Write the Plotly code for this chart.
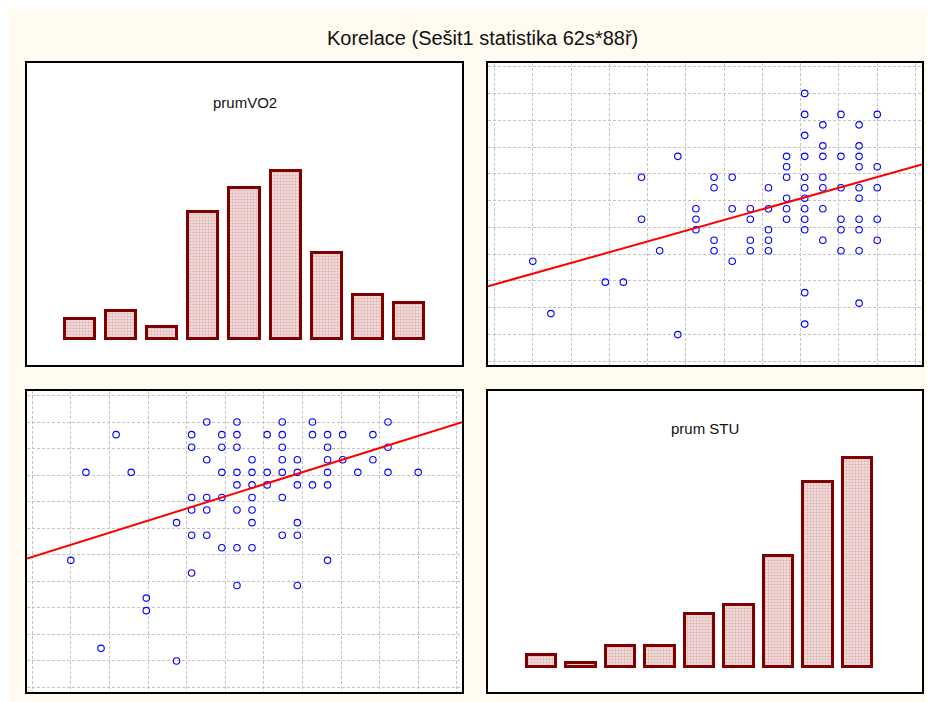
import numpy as np
import plotly.graph_objects as go

# ---------------- data ----------------
TITLE = "Korelace (Sešit1 statistika 62s*88ř)"
VAR_VO2 = "prumVO2"
VAR_STU = "prum STU"

stu = [0, 1, 4, 5, 6, 6, 7, 8, 8, 9, 9, 9, 10, 10, 10, 10, 11, 11, 11,
       12, 12, 12, 12, 12, 13, 13, 13, 13, 13, 13,
       14, 14, 14, 14, 14, 14, 14, 14,
       15, 15, 15, 15, 15, 15, 15, 15, 15, 15, 15, 15, 15, 15,
       16, 16, 16, 16, 16, 16, 16, 16, 16,
       17, 17, 17, 17, 17, 17, 17,
       18, 18, 18, 18, 18, 18, 18, 18, 18, 18, 18, 18, 18,
       19, 19, 19, 19, 19, 19]
vo2 = [7, 2, 5, 5, 11, 15, 8, 0, 17, 10, 11, 12, 8, 9, 14, 15, 7, 12, 15,
       8, 9, 11, 11, 12, 8, 9, 10, 12, 12, 14,
       11, 11, 12, 12, 13, 15, 16, 17,
       1, 4, 10, 11, 12, 13, 13, 14, 15, 17, 19, 21, 21, 23,
       9, 12, 14, 15, 15, 17, 18, 18, 20,
       8, 10, 11, 14, 17, 17, 21,
       3, 8, 10, 11, 13, 14, 14, 14, 16, 16, 17, 18, 20,
       9, 11, 14, 14, 16, 21]
N_BINS = 9

# ---------------- style / layout (figure pixel coordinates) ----------------
W, H = 935, 702
COL_L = (19, 454)
COL_R = (480, 914)
ROW_T = (55, 357)
ROW_B = (383, 684)
CREAM = "#FFFBF0"
GRID = "#c4c4c4"
BAR_LINE = "#800000"
BAR_BASE = 0.54
BAR_W = 0.735
HIST_YR = [-2.57, 34.15]
FONT = "Liberation Sans, Arial, sans-serif"

stu_a = np.array(stu, dtype=float)
vo2_a = np.array(vo2, dtype=float)

# coincident cases are drawn once (as in the original raster plot)
pairs = np.unique(np.column_stack([stu_a, vo2_a]), axis=0)
stu_u, vo2_u = pairs[:, 0], pairs[:, 1]


def dom_x(c):
    return [c[0] / W, c[1] / W]


def dom_y(r):
    return [1 - r[1] / H, 1 - r[0] / H]


def scat_axis_params(arr, pad):
    lo, hi = arr.min(), arr.max()
    step = (hi - lo) / N_BINS
    return [lo - pad * step, hi + pad * step], lo, step


stu_range, stu_t0, stu_dt = scat_axis_params(stu_a, 1.17)
vo2_range, vo2_t0, vo2_dt = scat_axis_params(vo2_a, 1.135)

vo2_counts, _ = np.histogram(vo2_a, bins=N_BINS, range=(vo2_a.min(), vo2_a.max()))
stu_counts, _ = np.histogram(stu_a, bins=N_BINS, range=(stu_a.min(), stu_a.max()))

fig = go.Figure()

bar_marker = dict(
    color="#f0d8d8",
    line=dict(color=BAR_LINE, width=3),
    pattern=dict(shape=".", size=3, solidity=0.5, fgcolor="#c98888", bgcolor="#f6e6e6"),
)

# top-left: histogram of prumVO2
fig.add_trace(go.Bar(x=np.arange(N_BINS), y=vo2_counts - BAR_BASE, base=BAR_BASE,
                     width=BAR_W, marker=bar_marker, xaxis="x", yaxis="y", showlegend=False))

marker_style = dict(symbol="circle-open", size=6.5, color="#0000ff",
                    line=dict(width=1.1, color="#0000ff"))

# top-right: prumVO2 vs prum STU
fig.add_trace(go.Scatter(x=stu_u, y=vo2_u, mode="markers", xaxis="x2", yaxis="y2",
                         marker=marker_style, showlegend=False))
b1, a1 = np.polyfit(stu_a, vo2_a, 1)
xr = np.array(stu_range)
fig.add_trace(go.Scatter(x=xr, y=a1 + b1 * xr, mode="lines", xaxis="x2", yaxis="y2",
                         line=dict(color="#ff0000", width=2), showlegend=False))

# bottom-left: prum STU vs prumVO2
fig.add_trace(go.Scatter(x=vo2_u, y=stu_u, mode="markers", xaxis="x3", yaxis="y3",
                         marker=marker_style, showlegend=False))
b2, a2 = np.polyfit(vo2_a, stu_a, 1)
xr2 = np.array(vo2_range)
fig.add_trace(go.Scatter(x=xr2, y=a2 + b2 * xr2, mode="lines", xaxis="x3", yaxis="y3",
                         line=dict(color="#ff0000", width=2), showlegend=False))

# bottom-right: histogram of prum STU
fig.add_trace(go.Bar(x=np.arange(N_BINS), y=stu_counts - BAR_BASE, base=BAR_BASE,
                     width=BAR_W, marker=bar_marker, xaxis="x4", yaxis="y4", showlegend=False))

frame = dict(showline=True, mirror=True, linecolor="black", linewidth=2,
             showticklabels=False, ticks="", zeroline=False, fixedrange=True)
hist_ax = dict(frame, showgrid=False)


def grid_ax(rng, t0, dt):
    return dict(frame, showgrid=True, gridcolor=GRID, gridwidth=1, griddash="3px,2px",
                range=rng, tick0=t0, dtick=dt)


fig.update_layout(
    width=W, height=H, autosize=False,
    margin=dict(l=0, r=0, t=0, b=0),
    paper_bgcolor=CREAM, plot_bgcolor="white",
    font=dict(family=FONT, color="black"),
    bargap=0,
    xaxis=dict(hist_ax, domain=dom_x(COL_L), range=[-1.29, 9.29], anchor="y"),
    yaxis=dict(hist_ax, domain=dom_y(ROW_T), range=HIST_YR, anchor="x"),
    xaxis2=dict(grid_ax(stu_range, stu_t0, stu_dt), domain=dom_x(COL_R), anchor="y2"),
    yaxis2=dict(grid_ax(vo2_range, vo2_t0, vo2_dt), domain=dom_y(ROW_T), anchor="x2"),
    xaxis3=dict(grid_ax(vo2_range, vo2_t0, vo2_dt), domain=dom_x(COL_L), anchor="y3"),
    yaxis3=dict(grid_ax(stu_range, stu_t0, stu_dt), domain=dom_y(ROW_B), anchor="x3"),
    xaxis4=dict(hist_ax, domain=dom_x(COL_R), range=[-1.354, 9.633], anchor="y4"),
    yaxis4=dict(hist_ax, domain=dom_y(ROW_B), range=HIST_YR, anchor="x4"),
    shapes=[
        dict(type="rect", xref="paper", yref="paper", x0=0, x1=1 / W, y0=0, y1=1,
             fillcolor="white", line=dict(width=0), layer="below"),
        dict(type="rect", xref="paper", yref="paper", x0=0, x1=1, y0=1 - 1 / H, y1=1,
             fillcolor="white", line=dict(width=0), layer="below"),
    ],
    annotations=[
        dict(text=TITLE, x=474 / W, y=1 - 30 / H, xref="paper", yref="paper",
             showarrow=False, xanchor="center", yanchor="middle",
             font=dict(size=20, family=FONT, color="#111111")),
        dict(text=VAR_VO2, x=(COL_L[0] + COL_L[1]) / 2 / W, y=1 - 94 / H,
             xref="paper", yref="paper", showarrow=False, xanchor="center",
             yanchor="middle", font=dict(size=15, family=FONT, color="#111111")),
        dict(text=VAR_STU, x=(COL_R[0] + COL_R[1]) / 2 / W, y=1 - 420.5 / H,
             xref="paper", yref="paper", showarrow=False, xanchor="center",
             yanchor="middle", font=dict(size=15, family=FONT, color="#111111")),
    ],
)

fig.write_html("out.html")
